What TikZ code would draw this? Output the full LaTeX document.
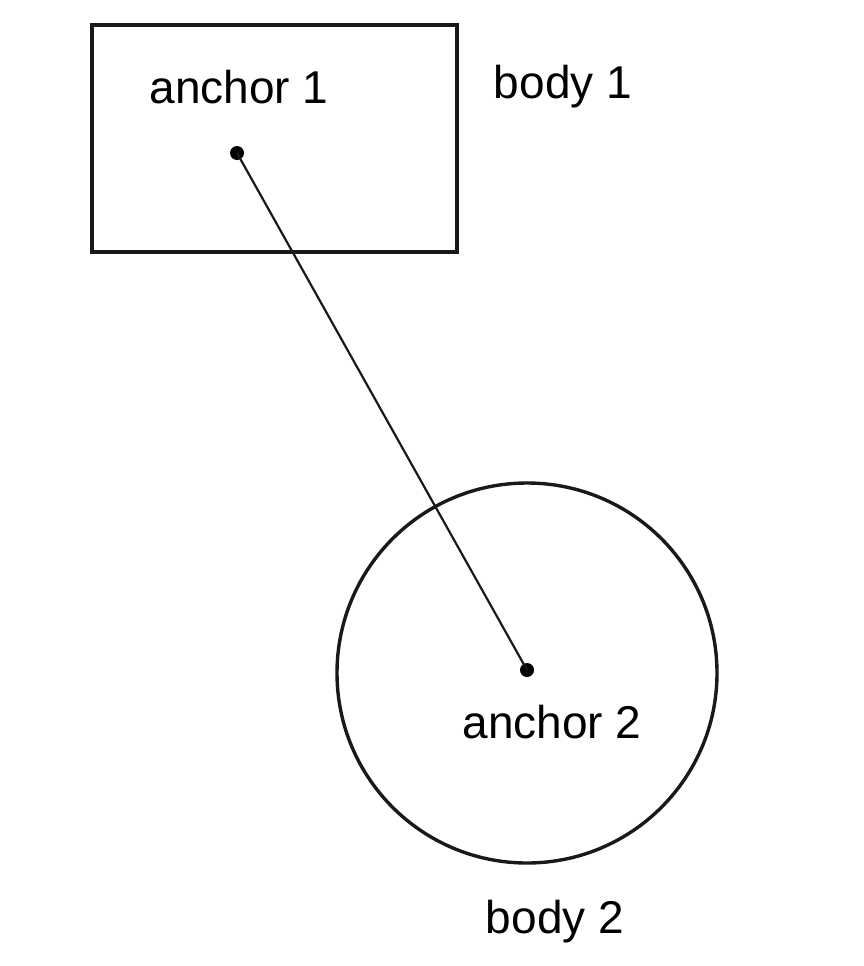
\documentclass[tikz,border=0pt]{standalone}
\usepackage{fontspec}
\setmainfont{Liberation Sans}
\begin{document}
\begin{tikzpicture}[x=1pt,y=-1pt,
  lbl/.style={font=\fontsize{46}{48}\selectfont, inner sep=0pt},
  body/.style={draw=black!90, line width=3.4pt},
  link/.style={draw=black!90, line width=2.2pt},
  dot/.style={circle, fill=black, inner sep=0pt, minimum size=14pt}]
\useasboundingbox (0,0) rectangle (863,966);
\draw[body] (92,25) rectangle (457,252);
\node[body, circle, minimum size=380pt, inner sep=0pt] (b2) at (527,673) {};
\node[dot] (a1) at (237,153) {};
\node[dot] (a2) at (527,670) {};
\draw[link] (a1.center) -- (a2.center);
\node[lbl] (t1) at (239,87) {anchor 1};
\node[lbl] (t2) at (563,87) {body 1};
\node[lbl] (t3) at (552,722) {anchor 2};
\node[lbl] (t4) at (555,922) {body 2};
\end{tikzpicture}
\end{document}
